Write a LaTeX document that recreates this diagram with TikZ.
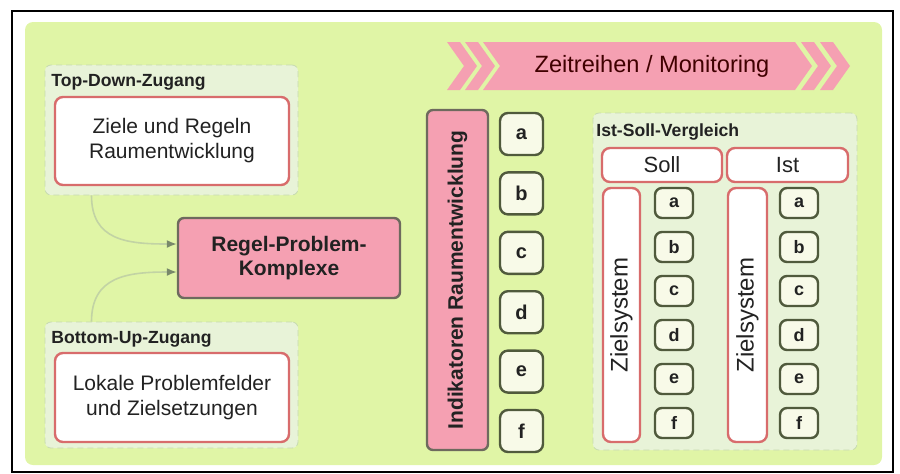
\documentclass[tikz,border=0pt]{standalone}
\usepackage{fontspec}
\setmainfont{Liberation Sans}
\usepackage{tikz}
\usetikzlibrary{arrows.meta}

\definecolor{bggreen}{HTML}{E0F5A6}
\definecolor{grpfill}{HTML}{E8F3D8}
\definecolor{grpline}{HTML}{C6DAB0}
\definecolor{boxred}{HTML}{D86C6C}
\definecolor{rose}{HTML}{F5A0B2}
\definecolor{roseline}{HTML}{6E6A5E}
\definecolor{letline}{HTML}{505A3C}
\definecolor{letfill}{HTML}{F8FAE8}
\definecolor{connline}{HTML}{C2D3A4}
\definecolor{conntip}{HTML}{78886A}
\definecolor{txt}{HTML}{222222}

\begin{document}
\begin{tikzpicture}[x=0.5pt, y=-0.5pt,
        grp/.style={draw=grpline, densely dashed, fill=grpfill, rounded corners=3pt},
        grplabel/.style={anchor=west, inner sep=0pt, text=txt, font=\fontsize{8.8}{10}\selectfont\bfseries},
        redbox/.style={draw=boxred, line width=1.2pt, fill=white, rounded corners=4pt, text=txt,
            align=center, inner sep=0pt, font=\fontsize{10.5}{12.5}\selectfont},
        rosebox/.style={draw=roseline, line width=1.2pt, fill=rose, rounded corners=3pt, text=txt,
            align=center, inner sep=0pt, font=\fontsize{10.5}{12}\selectfont\bfseries},
        letbox/.style={draw=letline, line width=1.2pt, fill=letfill, rounded corners=4pt, text=txt,
            inner sep=0pt, minimum width=21.5pt, minimum height=21pt, font=\fontsize{10}{12}\selectfont\bfseries},
        smallbox/.style={letbox, minimum width=19pt, minimum height=15pt, rounded corners=3.5pt,
            font=\fontsize{9}{10}\selectfont\bfseries},
        conn/.style={draw=connline, line width=0.8pt, -{Latex[length=5pt, width=4pt, color=conntip]}}
    ]
    \useasboundingbox (0,0) rectangle (900,473);
    \draw [black, line width=0.6pt] (12,11) rectangle (893,472);
    \fill [bggreen, rounded corners=4pt] (25,22) rectangle (882,465);

    % Zugaenge links
    \node [grp, minimum width=126.5pt, minimum height=65pt] (tdgrp) at (171.5,130) {};
    \node [grplabel] (tdlab) at (51,82) {Top-Down-Zugang};
    \node [redbox, minimum width=117pt, minimum height=44pt] (td) at (172,141)
        {Ziele und Regeln\\Raumentwicklung};

    \node [grp, minimum width=126.5pt, minimum height=63pt] (bugrp) at (171.5,385) {};
    \node [grplabel] (bulab) at (51,339) {Bottom-Up-Zugang};
    \node [redbox, minimum width=117pt, minimum height=44.5pt] (bu) at (172,397.5)
        {Lokale Problemfelder\\und Zielsetzungen};

    \node [rosebox, minimum width=111pt, minimum height=40pt] (rp) at (289,258)
        {Regel-Problem-\\Komplexe};

    \draw [conn] ([xshift=-40pt]tdgrp.south) .. controls +(0,45) and +(-50,0) .. ([yshift=7pt]rp.west);
    \draw [conn] ([xshift=-40pt]bugrp.north) .. controls +(0,-45) and +(-50,0) .. ([yshift=-7pt]rp.west);

    % Zeitreihen
    \foreach \x in {447,465,801,820} {
        \fill [rose] (\x,42) -- ++(13,0) -- ++(17,24) -- ++(-17,24) -- ++(-13,0) -- ++(17,-24) -- cycle;
    }
    \fill [rose] (483,42) -- (795,42) -- (812,66) -- (795,90) -- (483,90) -- (500,66) -- cycle;
    \node [text=black!75!red, font=\fontsize{11.8}{14}\selectfont] (zeit) at (652,66) {Zeitreihen / Monitoring};

    % Indikatoren
    \node [rosebox, rotate=90, minimum width=170pt, minimum height=30.5pt] (ind) at (457.5,280)
        {Indikatoren Raumentwicklung};
    \foreach \l [count=\i from 0] in {a,b,c,d,e,f} {
        \node [letbox] (ind\l) at (521.5,{134+59.4*\i}) {\l};
    }

    % Ist-Soll-Vergleich
    \node [grp, minimum width=132pt, minimum height=168.5pt] (isgrp) at (725,281.5) {};
    \node [grplabel] (islab) at (596,132) {Ist-Soll-Vergleich};
    \node [redbox, minimum width=60pt, minimum height=17pt, font=\fontsize{11}{13}\selectfont] (soll) at (662,165) {Soll};
    \node [redbox, minimum width=60.5pt, minimum height=17pt, font=\fontsize{11}{13}\selectfont] (ist) at (787.5,165) {Ist};
    \node [redbox, rotate=90, minimum width=127pt, minimum height=18.5pt, font=\fontsize{12}{14}\selectfont]
        (zsoll) at (621.5,315) {Zielsystem};
    \node [redbox, rotate=90, minimum width=127pt, minimum height=19.5pt, font=\fontsize{12}{14}\selectfont]
        (zist) at (747.5,315) {Zielsystem};
    \foreach \l [count=\i from 0] in {a,b,c,d,e,f} {
        \node [smallbox] (soll\l) at (674,{203+44*\i}) {\l};
        \node [smallbox] (ist\l) at (799,{203+44*\i}) {\l};
    }
\end{tikzpicture}
\end{document}
